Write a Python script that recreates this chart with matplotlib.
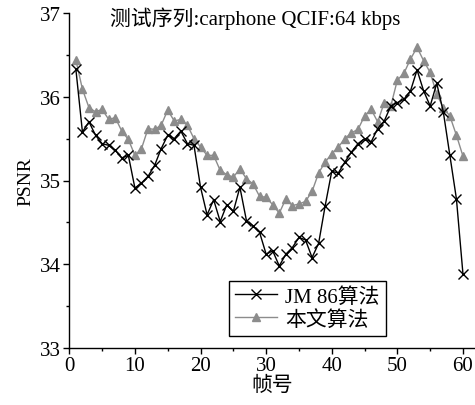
import matplotlib
matplotlib.use("Agg")
import matplotlib.pyplot as plt
from matplotlib.ticker import MultipleLocator

frames = list(range(1, 61))
jm86 = [36.33, 35.58, 35.70, 35.54, 35.44, 35.42, 35.36, 35.27, 35.30, 34.91,
        34.97, 35.05, 35.18, 35.38, 35.54, 35.50, 35.59, 35.44, 35.42, 34.92,
        34.59, 34.77, 34.51, 34.71, 34.63, 34.92, 34.52, 34.46, 34.38, 34.12,
        34.16, 33.98, 34.12, 34.20, 34.32, 34.29, 34.08, 34.25, 34.70, 35.11,
        35.09, 35.22, 35.34, 35.44, 35.50, 35.46, 35.62, 35.71, 35.89, 35.93,
        35.97, 36.07, 36.32, 36.07, 35.89, 36.16, 35.82, 35.30, 34.78, 33.88]
ours = [36.44, 36.09, 35.87, 35.82, 35.85, 35.73, 35.75, 35.59, 35.49, 35.30,
        35.38, 35.62, 35.61, 35.66, 35.84, 35.71, 35.73, 35.66, 35.50, 35.40,
        35.30, 35.30, 35.12, 35.07, 35.04, 35.14, 35.02, 34.96, 34.81, 34.80,
        34.71, 34.61, 34.78, 34.70, 34.72, 34.75, 34.87, 35.09, 35.22, 35.32,
        35.40, 35.50, 35.57, 35.61, 35.77, 35.85, 35.70, 35.93, 35.89, 36.20,
        36.28, 36.45, 36.59, 36.43, 36.29, 36.03, 35.87, 35.77, 35.54, 35.29]

label_jm = "JM 86算法"
label_ours = "本文算法"
title = "测试序列:carphone QCIF:64 kbps"
xlabel = "帧号"
ylabel = "PSNR"

serif = ["Liberation Serif", "Noto Sans CJK SC"]
plt.rcParams["font.family"] = serif

fig = plt.figure(figsize=(4.75, 4.06), dpi=100)
ax = fig.add_axes([69.3 / 475, 57 / 406, 405.5 / 475, 335 / 406])

grey = "#8c8c8c"
h_ours, = ax.plot(frames, ours, color=grey, lw=1.0, marker="^", ms=6,
                  mfc=grey, mec=grey, label=label_ours, zorder=2)
h_jm, = ax.plot(frames, jm86, color="black", lw=1.0, marker="x", ms=6.5,
                mew=1.0, label=label_jm, zorder=3)

ax.set_xlim(0, 61.8)
ax.set_ylim(33, 37)
ax.xaxis.set_major_locator(MultipleLocator(10))
ax.xaxis.set_minor_locator(MultipleLocator(5))
ax.yaxis.set_major_locator(MultipleLocator(1))
ax.yaxis.set_minor_locator(MultipleLocator(0.5))

for s in ["top", "right"]:
    ax.spines[s].set_visible(False)
for s in ["left", "bottom"]:
    ax.spines[s].set_linewidth(1.0)

ax.tick_params(axis="both", which="major", direction="out", length=4,
               width=1.0, labelsize=15, pad=2)
ax.tick_params(axis="both", which="minor", direction="out", length=2.5,
               width=1.0)

ax.set_xlabel(xlabel, fontsize=15, labelpad=0)
ax.set_ylabel(ylabel, fontsize=14, labelpad=4)

fig.text(255 / 475, 1 - 19 / 406, title, fontsize=15, ha="center",
         va="center")

leg = ax.legend([h_jm, h_ours], [label_jm, label_ours],
                loc="lower left",
                bbox_to_anchor=((229 - 69.3) / 405.5, (349 - 337) / 335),
                frameon=True, fancybox=False, edgecolor="black",
                fontsize=15, handlelength=2.0, borderpad=0.3,
                labelspacing=0.15, handletextpad=0.4, borderaxespad=0)
leg.get_frame().set_linewidth(1.0)
leg.get_frame().set_alpha(1)

fig.savefig("out.png", dpi=100)
